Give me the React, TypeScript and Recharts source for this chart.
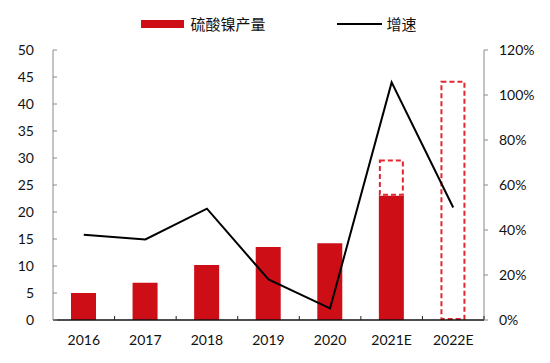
import React from "react";
import {
  ComposedChart,
  Bar,
  Line,
  XAxis,
  YAxis,
  Legend,
} from "recharts";

const years = ["2016", "2017", "2018", "2019", "2020", "2021E", "2022E"];
const output = [5.0, 6.9, 10.2, 13.5, 14.2, 23.0, null];
const forecastExtra = [null, null, null, null, null, 6.7, 44.3];
const growth = [0.379, 0.358, 0.495, 0.18, 0.052, 1.056, 0.5];
const leftTicks = [0, 5, 10, 15, 20, 25, 30, 35, 40, 45, 50];
const rightTicks = [0, 0.2, 0.4, 0.6, 0.8, 1.0, 1.2];

const data = years.map((year, i) => ({
  year,
  output: output[i],
  extra: forecastExtra[i],
  growth: growth[i],
}));

const RED = "#CE0E17";
const DASH_RED = "#E3262E";
const AXIS_GREY = "#8a8a8a";
const NUM_FONT = "Lato, 'Noto Sans', sans-serif";
const CJK_FONT = "'Noto Sans CJK SC', sans-serif";

const LeftTick = (props: any) => {
  const { x, y, payload } = props;
  return (
    <g>
      <line x1={x} x2={x + 4} y1={y} y2={y} stroke={AXIS_GREY} />
      <text x={x - 19} y={y + 5} textAnchor="end" fontSize={14} fontFamily={NUM_FONT} fill="#111">
        {payload.value}
      </text>
    </g>
  );
};

const RightTick = (props: any) => {
  const { x, y, payload } = props;
  return (
    <g>
      <line x1={x} x2={x + 4} y1={y} y2={y} stroke={AXIS_GREY} />
      <text x={x + 15} y={y + 5} textAnchor="start" fontSize={14} fontFamily={NUM_FONT} fill="#111">
        {Math.round(payload.value * 100) + "%"}
      </text>
    </g>
  );
};

const BottomTick = (props: any) => {
  const { x, y, payload } = props;
  // boundary tick between categories, half a band to the right
  const bx = x + 30.8;
  return (
    <g>
      <line x1={bx} x2={bx} y1={y} y2={y - 4} stroke="#222" />
      <text x={x} y={y + 25} textAnchor="middle" fontSize={14} fontFamily={NUM_FONT} fill="#111">
        {payload.value}
      </text>
    </g>
  );
};

const DashedBar = (props: any) => {
  const { x, y, width, height } = props;
  if (!height) return null;
  return (
    <rect
      x={x + 1}
      y={y + 1}
      width={width - 2}
      height={height - 2}
      fill="none"
      stroke={DASH_RED}
      strokeWidth={2}
      strokeDasharray="5 3"
    />
  );
};

const renderLegend = () => (
  <div
    style={{
      display: "flex",
      justifyContent: "center",
      alignItems: "center",
      paddingTop: 4,
      fontFamily: CJK_FONT,
      fontSize: 15,
      lineHeight: "16px",
      color: "#111",
    }}
  >
    <span style={{ display: "inline-block", width: 43, height: 8, background: RED, marginRight: 6 }} />
    <span>硫酸镍产量</span>
    <span style={{ display: "inline-block", width: 45, height: 2, background: "#000", marginLeft: 71, marginRight: 5 }} />
    <span>增速</span>
  </div>
);

const App = () => {
  return (
    <ComposedChart
      width={542}
      height={355}
      data={data}
      margin={{ top: 4, right: 16, bottom: 13, left: 0 }}
    >
      <Legend
        verticalAlign="top"
        height={38}
        content={renderLegend}
        wrapperStyle={{ left: 0, width: 542, top: 4 }}
      />
      <XAxis
        dataKey="year"
        height={30}
        axisLine={{ stroke: "#111", strokeWidth: 1.5 }}
        tickLine={false}
        tickSize={0}
        tickMargin={0}
        tick={<BottomTick />}
        interval={0}
      />
      <YAxis
        yAxisId="left"
        width={45}
        domain={[0, 50]}
        ticks={leftTicks}
        interval={0}
        axisLine={{ stroke: AXIS_GREY }}
        tickLine={false}
        tickSize={0}
        tickMargin={0}
        tick={<LeftTick />}
      />
      <YAxis
        yAxisId="right"
        orientation="right"
        width={50}
        domain={[0, 1.2]}
        ticks={rightTicks}
        interval={0}
        axisLine={{ stroke: AXIS_GREY }}
        tickLine={false}
        tickSize={0}
        tickMargin={0}
        tick={<RightTick />}
      />
      <Bar
        yAxisId="left"
        dataKey="output"
        stackId="a"
        fill={RED}
        barSize={25}
        isAnimationActive={false}
      />
      <Bar
        yAxisId="left"
        dataKey="extra"
        stackId="a"
        barSize={25}
        shape={<DashedBar />}
        isAnimationActive={false}
      />
      <Line
        yAxisId="right"
        dataKey="growth"
        stroke="#000"
        strokeWidth={2}
        dot={false}
        isAnimationActive={false}
      />
    </ComposedChart>
  );
};

export default App;
